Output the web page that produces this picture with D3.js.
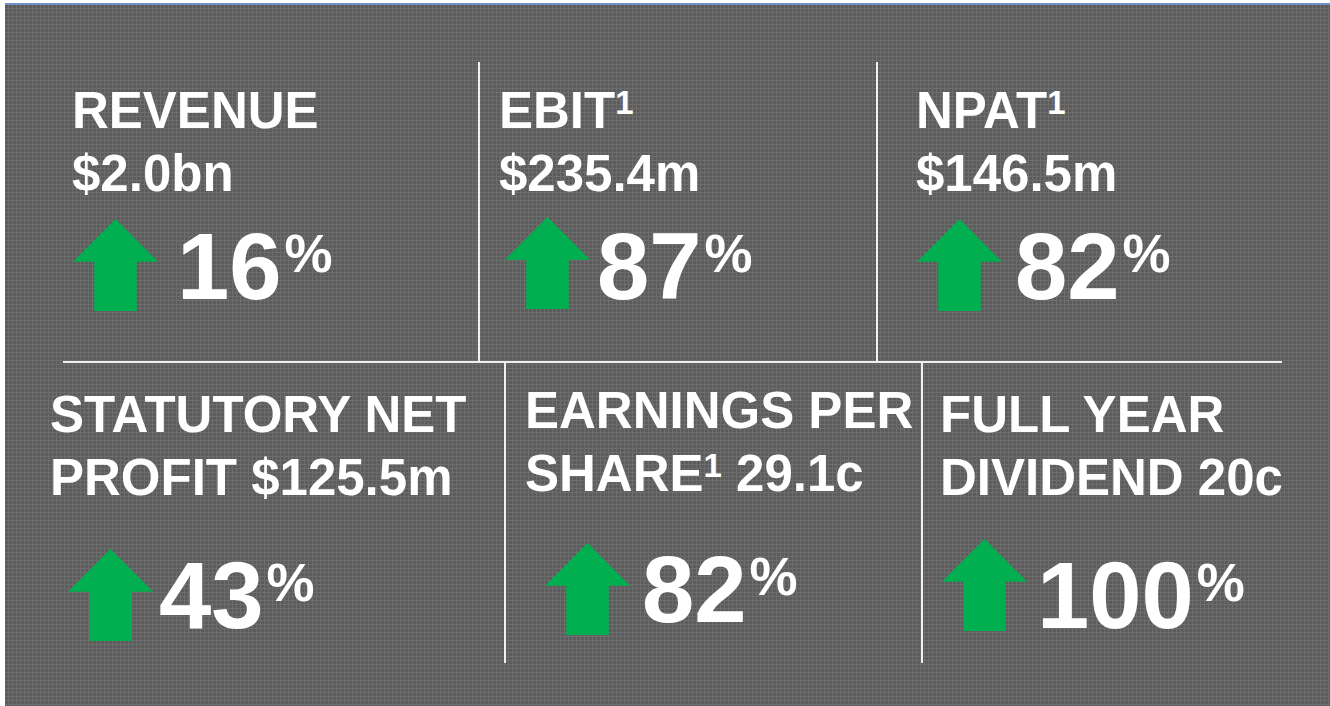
<!DOCTYPE html>
<html>
<head>
<meta charset="utf-8">
<script src="https://cdn.jsdelivr.net/npm/d3@7"></script>
<style>
  html, body { margin: 0; padding: 0; background: #ffffff; }
  svg { display: block; }
  text { font-family: "Liberation Sans", Arial, sans-serif; font-weight: bold; fill: #ffffff; }
</style>
</head>
<body>
<div id="chart"></div>
<script>
// data
var lineOne = ["REVENUE", "EBIT^", "NPAT^", "STATUTORY NET", "EARNINGS PER", "FULL YEAR"];
var lineTwo = ["$2.0bn", "$235.4m", "$146.5m", "PROFIT $125.5m", "SHARE^ 29.1c", "DIVIDEND 20c"];
var changes = [16, 87, 82, 43, 82, 100];

// layout
var width = 1330, height = 706;
var textX  = [72, 499, 916, 50, 525, 940];
var arrowX = [73, 505, 917, 68, 545, 942];
var arrowY = [219, 217, 219, 549, 543, 539];
var numX   = [177, 597, 1015, 159, 642, 1037];
var numY   = [299, 299, 299, 628, 622, 628];
var rowY1  = [128, 128, 128, 432, 428, 432];

var svg = d3.select("#chart").append("svg")
            .attr("width", width)
            .attr("height", height);

var defs = svg.append("defs");
var pat = defs.append("pattern")
              .attr("id", "weave")
              .attr("width", 4).attr("height", 4)
              .attr("patternUnits", "userSpaceOnUse");
pat.append("rect").attr("width", 4).attr("height", 4).attr("fill", "#5c5c5c");
pat.append("rect").attr("width", 4).attr("height", 1).attr("fill", "#6d6d6d");
pat.append("rect").attr("width", 1).attr("height", 4).attr("fill", "#6d6d6d");

svg.append("rect")
   .attr("x", 5).attr("y", 4)
   .attr("width", width - 5).attr("height", height - 4)
   .attr("fill", "url(#weave)");

svg.append("rect")
   .attr("x", 5).attr("y", 3)
   .attr("width", width - 5).attr("height", 2)
   .attr("fill", "#7094c8");

// divider lines
var dividers = [
  [63, 362, 1282, 362],
  [479, 62, 479, 362],
  [877, 62, 877, 362],
  [505, 362, 505, 663],
  [922, 362, 922, 663]
];
svg.selectAll("line.div")
   .data(dividers)
   .enter()
   .append("line")
   .attr("class", "div")
   .attr("x1", function(d) { return d[0]; })
   .attr("y1", function(d) { return d[1]; })
   .attr("x2", function(d) { return d[2]; })
   .attr("y2", function(d) { return d[3]; })
   .attr("stroke", "#f0f0f0")
   .attr("stroke-width", 2);

// arrow shape in unit coords, scaled to pixels
var ax = d3.scaleLinear().domain([0, 1]).range([0, 85]);
var ay = d3.scaleLinear().domain([0, 1]).range([0, 92]);
var arrowPts = [[0.5, 0], [1, 0.465], [0.75, 0.465], [0.75, 1], [0.25, 1], [0.25, 0.465], [0, 0.465]];
var arrowLine = d3.line()
                  .x(function(p) { return ax(p[0]); })
                  .y(function(p) { return ay(p[1]); });

var tiles = svg.selectAll("g.tile")
               .data(changes)
               .enter()
               .append("g")
               .attr("class", "tile");

tiles.append("path")
     .attr("transform", function(d, i) { return "translate(" + arrowX[i] + "," + arrowY[i] + ")"; })
     .attr("d", arrowLine(arrowPts) + "Z")
     .attr("fill", "#00b050");

function addLine(sel, str) {
  var parts = str.split("^");
  parts.forEach(function(p, k) {
    if (k > 0) {
      sel.append("tspan").attr("font-size", 33).attr("dy", -14).text("1");
      sel.append("tspan").attr("dy", 14).text(p);
    } else {
      sel.append("tspan").text(p);
    }
  });
}

tiles.each(function(d, i) {
  var g = d3.select(this);
  var t1 = g.append("text")
            .attr("x", textX[i]).attr("y", rowY1[i])
            .attr("font-size", 51);
  addLine(t1, lineOne[i]);
  var t2 = g.append("text")
            .attr("x", textX[i]).attr("y", rowY1[i] + 63)
            .attr("font-size", 51);
  addLine(t2, lineTwo[i]);

  var num = g.append("text")
             .attr("x", numX[i]).attr("y", numY[i])
             .attr("font-size", 94);
  num.append("tspan").text(d);
  num.append("tspan").attr("font-size", 54).attr("dx", 3).attr("dy", -27).text("%");
});
</script>
</body>
</html>
